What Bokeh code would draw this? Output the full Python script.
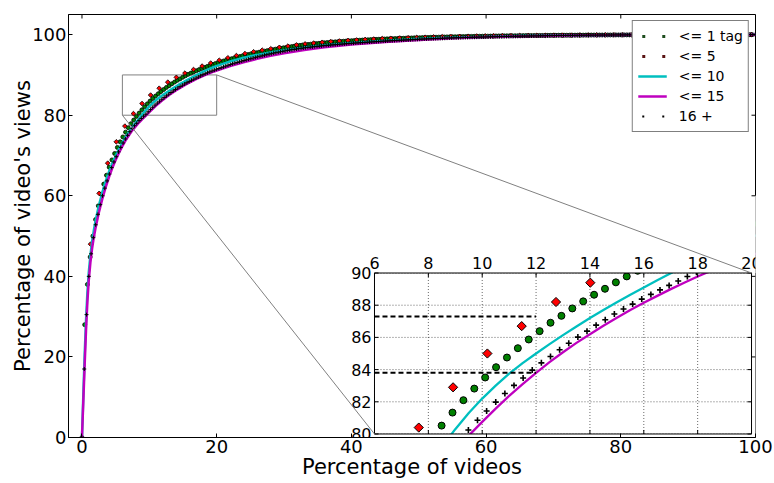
import math
from bokeh.plotting import figure
from bokeh.models import Range1d, FixedTicker, Legend, LegendItem
from bokeh.embed import file_html
from bokeh.resources import INLINE
from bokeh.core.properties import value

FONT = "DejaVu Sans"

# ---------------- data ----------------
LABELS = ["<= 1 tag", "<= 5", "<= 10", "<= 15", "16 +"]
X_TITLE = "Percentage of videos"
Y_TITLE = "Percentage of video's views"

# "<= 5" (red diamonds): one point every RED_STEP percent of videos
RED_STEP = 1.274
RED_Y = [0, 48.0, 60.6, 68.1, 73.4, 77.3, 80.4, 82.9, 85.0, 86.7,
         88.2, 89.4, 90.45, 91.35, 92.2, 92.95, 93.65, 94.25, 94.8, 95.3,
         95.75, 96.15, 96.5, 96.85, 97.15, 97.45, 97.7, 97.9, 98.1, 98.27,
         98.42, 98.56, 98.68, 98.8, 98.9, 99.0, 99.08, 99.16, 99.23, 99.3,
         99.36, 99.42, 99.47, 99.52, 99.56, 99.6, 99.64, 99.67, 99.7, 99.73,
         99.76, 99.78, 99.8, 99.82, 99.84, 99.86, 99.87, 99.88, 99.9, 99.91,
         99.92, 99.93, 99.94, 99.95, 99.95, 99.96, 99.96, 99.97, 99.97, 99.98,
         99.98, 99.98, 99.99, 99.99, 99.99, 99.99, 100, 100, 100]

# "<= 1 tag" (green circles)
GREEN_STEP = 0.4044
GREEN_Y = [0, 28.0, 38.0, 44.8, 50.0, 54.1, 57.5, 60.4, 62.9, 65.1,
           67.1, 68.9, 70.5, 72.0, 73.4, 74.6, 75.8, 76.9, 77.9, 78.8,
           79.7, 80.52, 81.33, 82.10, 82.82, 83.51, 84.15, 84.75, 85.33, 85.87,
           86.39, 86.91, 87.34, 87.80, 88.24, 88.65, 89.02, 89.42, 89.79, 90.14,
           90.45, 90.74, 91.04, 91.32, 91.59, 91.85, 92.1, 92.35, 92.59, 92.82,
           93.05, 93.26, 93.46, 93.66, 93.86, 94.04, 94.23, 94.41, 94.58, 94.75,
           94.91, 95.07, 95.22, 95.37, 95.51, 95.64, 95.78, 95.9, 96.03, 96.14,
           96.27, 96.39, 96.51, 96.62, 96.73, 96.83, 96.94, 97.04, 97.15, 97.25,
           97.34, 97.43, 97.51, 97.58, 97.64, 97.72, 97.78, 97.85, 97.92, 97.98,
           98.04, 98.1, 98.15, 98.21, 98.26, 98.31, 98.36, 98.41, 98.45, 98.5,
           98.54, 98.58, 98.62, 98.66, 98.69, 98.73, 98.77, 98.8, 98.83, 98.86,
           98.89, 98.92, 98.95, 98.98, 99.01, 99.03, 99.06, 99.08, 99.1, 99.13,
           99.16, 99.18, 99.2, 99.22, 99.24, 99.26, 99.29, 99.31, 99.33, 99.35,
           99.36, 99.38, 99.4, 99.42, 99.44, 99.45, 99.47, 99.48, 99.49, 99.51,
           99.52, 99.53, 99.55, 99.57, 99.58, 99.59, 99.6, 99.61, 99.62, 99.63,
           99.64, 99.65, 99.67, 99.68, 99.69, 99.7, 99.71, 99.72, 99.72, 99.73,
           99.74, 99.75, 99.76, 99.77, 99.77, 99.78, 99.78, 99.79, 99.8, 99.8,
           99.81, 99.82, 99.82, 99.83, 99.84, 99.85, 99.85, 99.85, 99.86, 99.86,
           99.86, 99.87, 99.88, 99.88, 99.88, 99.89, 99.89, 99.9, 99.9, 99.9,
           99.91, 99.91, 99.91, 99.92, 99.92, 99.92, 99.93, 99.93, 99.93, 99.94,
           99.94, 99.94, 99.95, 99.95, 99.95, 99.95, 99.96, 99.96, 99.96, 99.96,
           99.97, 99.97, 99.97, 99.97, 99.97, 99.98, 99.98, 99.98, 99.98, 99.98,
           99.98, 99.99, 99.99, 99.99, 99.99, 99.99, 99.99, 99.99, 99.99, 99.99,
           99.99, 100, 100, 100, 100, 100, 100, 100, 100, 100,
           100, 100, 100, 100, 100, 100, 100]

# "16 +" (black plus markers)
PLUS_STEP = 0.3388
PLUS_Y = [0, 17.0, 30.5, 40.0, 45.6, 49.6, 52.8, 55.4, 57.8, 60.0,
          61.9, 63.7, 65.4, 67.0, 68.4, 69.7, 70.9, 72.0, 73.1, 74.1,
          75.0, 75.9, 76.7, 77.4, 78.0, 78.65, 79.2, 79.75, 80.25, 80.85,
          81.43, 81.98, 82.52, 83.02, 83.48, 83.97, 84.42, 84.81, 85.23, 85.64,
          86.02, 86.39, 86.76, 87.10, 87.45, 87.76, 88.07, 88.38, 88.67, 88.95,
          89.23, 89.50, 89.78, 90.05, 90.3, 90.55, 90.78, 91.0, 91.22, 91.43,
          91.6, 91.8, 92.0, 92.2, 92.4, 92.6, 92.78, 92.95, 93.1, 93.27,
          93.44, 93.6, 93.76, 93.91, 94.05, 94.2, 94.35, 94.5, 94.63, 94.76,
          94.9, 95.03, 95.16, 95.28, 95.4, 95.52, 95.63, 95.74, 95.85, 95.96,
          96.08, 96.17, 96.26, 96.34, 96.43, 96.52, 96.6, 96.69, 96.76, 96.83,
          96.9, 96.96, 97.03, 97.09, 97.15, 97.21, 97.28, 97.33, 97.38, 97.43,
          97.47, 97.52, 97.57, 97.62, 97.66, 97.71, 97.76, 97.8, 97.85, 97.89,
          97.93, 97.97, 98.0, 98.04, 98.08, 98.12, 98.16, 98.19, 98.23, 98.27,
          98.3, 98.34, 98.38, 98.41, 98.44, 98.47, 98.5, 98.53, 98.56, 98.59,
          98.62, 98.65, 98.68, 98.71, 98.74, 98.77, 98.8, 98.83, 98.86, 98.89,
          98.92, 98.94, 98.96, 98.98, 99.01, 99.03, 99.05, 99.07, 99.09, 99.11,
          99.14, 99.16, 99.18, 99.2, 99.22, 99.24, 99.25, 99.27, 99.29, 99.3,
          99.32, 99.34, 99.35, 99.37, 99.38, 99.4, 99.41, 99.43, 99.44, 99.46,
          99.47, 99.48, 99.5, 99.51, 99.52, 99.54, 99.55, 99.56, 99.57, 99.58,
          99.59, 99.61, 99.62, 99.63, 99.64, 99.65, 99.66, 99.67, 99.68, 99.69,
          99.7, 99.71, 99.72, 99.73, 99.74, 99.75, 99.76, 99.77, 99.77, 99.78,
          99.79, 99.8, 99.8, 99.81, 99.82, 99.82, 99.83, 99.84, 99.84, 99.85,
          99.86, 99.86, 99.87, 99.87, 99.88, 99.88, 99.89, 99.89, 99.9, 99.9,
          99.9, 99.91, 99.91, 99.92, 99.92, 99.92, 99.93, 99.93, 99.93, 99.94,
          99.94, 99.94, 99.95, 99.95, 99.95, 99.95, 99.96, 99.96, 99.96, 99.96,
          99.96, 99.97, 99.97, 99.97, 99.97, 99.97, 99.97, 99.98, 99.98, 99.98,
          99.98, 99.98, 99.98, 99.98, 99.98, 99.98, 99.98, 99.98, 99.98, 99.99,
          99.99, 99.99, 99.99, 99.99, 99.99, 99.99, 99.99, 99.99, 99.99, 99.99,
          99.99, 99.99, 99.99, 99.99, 99.99, 100, 100, 100, 100, 100,
          100, 100, 100, 100, 100, 100]

# "<= 10" (cyan) and "<= 15" (magenta) curves
LINE_X = [0, 0.2, 0.4, 0.6, 0.8, 1.0, 1.25, 1.5, 1.75, 2.0,
          2.5, 3.0, 3.5, 4.0, 4.5, 5.0, 5.5, 6.0, 6.5, 7.0,
          7.5, 8.0, 8.5, 9.0, 9.5, 10.0, 10.5, 11.0, 11.5, 12.0,
          12.5, 13.0, 13.5, 14.0, 14.5, 15.0, 15.5, 16.0, 16.5, 17.0,
          17.5, 18.0, 18.5, 19.0, 19.5, 20.0, 22, 24, 26, 28,
          30, 33, 36, 40, 45, 50, 55, 60, 65, 70,
          75, 80, 85, 90, 95, 100]
CYAN_Y = [0, 10.5, 20.5, 29.0, 35.8, 40.8, 45.2, 48.6, 51.3, 53.6,
          57.5, 60.7, 63.5, 65.9, 68.0, 69.9, 71.6, 73.2, 74.6, 75.9,
          77.1, 78.2, 79.2, 80.3, 81.3, 82.2, 83.0, 83.75, 84.4, 85.0,
          85.58, 86.14, 86.68, 87.2, 87.7, 88.18, 88.65, 89.1, 89.55, 89.98,
          90.4, 90.8, 91.18, 91.55, 91.9, 92.24, 93.35, 94.25, 94.98, 95.58,
          96.1, 96.78, 97.35, 97.9, 98.5, 98.95, 99.3, 99.5, 99.7, 99.8,
          99.88, 99.93, 99.96, 99.98, 99.99, 100]
MAG_Y = [0, 9.0, 18.0, 26.5, 33.5, 38.8, 43.4, 46.9, 49.6, 51.9,
         55.8, 59.1, 62.0, 64.6, 66.9, 68.9, 70.7, 72.3, 73.8, 75.1,
         76.3, 77.3, 78.25, 79.1, 79.9, 80.75, 81.58, 82.37, 83.1, 83.8,
         84.46, 85.08, 85.66, 86.2, 86.72, 87.22, 87.7, 88.15, 88.58, 89.0,
         89.4, 89.78, 90.14, 90.48, 90.8, 91.1, 92.2, 93.15, 94.0, 94.75,
         95.4, 96.2, 96.85, 97.55, 98.2, 98.7, 99.1, 99.4, 99.6, 99.75,
         99.85, 99.92, 99.96, 99.98, 99.99, 100]

MAIN_TICKS = [0, 20, 40, 60, 80, 100]
INSET_X_TICKS = [6, 8, 10, 12, 14, 16, 18, 20]
INSET_Y_TICKS = [80, 82, 84, 86, 88, 90]
ZOOM_X = (6, 20)
ZOOM_Y = (80, 90)
DASH_LEVELS = [87.3, 83.8]
DASH_X_END = 12

red_x = [i * RED_STEP for i in range(len(RED_Y))]
green_x = [i * GREEN_STEP for i in range(len(GREEN_Y))]
plus_x = [i * PLUS_STEP for i in range(len(PLUS_Y))]

# ---------------- styles ----------------
C_GREEN = "#008000"
C_RED = "#ff0000"
C_CYAN = "#00bfbf"
C_MAG = "#bf00bf"
C_GRAY = "#808080"
NAN = float("nan")

XR = Range1d(-2, 100)
YR = Range1d(0, 105)
p = figure(width=774, height=483, x_range=XR, y_range=YR,
           output_backend="svg", toolbar_location=None,
           min_border_left=68, min_border_right=19, min_border_top=14, min_border_bottom=46,
           x_axis_label=X_TITLE, y_axis_label=Y_TITLE)
p.grid.visible = False
p.outline_line_color = "black"
p.outline_line_width = 1
p.background_fill_color = "white"
p.border_fill_color = "white"

for ax in (p.xaxis[0], p.yaxis[0]):
    ax.ticker = FixedTicker(ticks=MAIN_TICKS)
    ax.major_tick_in = 4
    ax.major_tick_out = 0
    ax.minor_tick_line_color = None
    ax.axis_line_color = "black"
    ax.major_tick_line_color = "black"
    ax.major_label_text_font = FONT
    ax.major_label_text_font_size = "18px"
    ax.major_label_text_color = "black"
    ax.axis_label_text_font = FONT
    ax.axis_label_text_font_size = "21px"
    ax.axis_label_text_font_style = "normal"
    ax.axis_label_text_color = "black"
p.xaxis.major_label_standoff = 2
p.xaxis.axis_label_standoff = -1
p.yaxis.major_label_standoff = 2
p.yaxis.axis_label_standoff = -6

# zoom rectangle on main axes
p.quad(left=[ZOOM_X[0]], right=[ZOOM_X[1]], bottom=[ZOOM_Y[0]], top=[ZOOM_Y[1]],
       fill_color=None, line_color=C_GRAY, line_width=1)

# main series
r_green = p.scatter(green_x, GREEN_Y, marker="circle", size=4, fill_color=C_GREEN,
                    line_color="black", line_width=0.8)
r_red = p.scatter(red_x, RED_Y, marker="square", angle=math.pi / 4, size=3.3, fill_color=C_RED,
                  line_color="black", line_width=0.8)
r_cyan = p.line(LINE_X, CYAN_Y, line_color=C_CYAN, line_width=2.5)
r_mag = p.line(LINE_X, MAG_Y, line_color=C_MAG, line_width=2.5)
r_plus = p.scatter(plus_x, PLUS_Y, marker="cross", size=4, line_color="black", line_width=1)

# ---------------- inset ----------------
BOX = dict(x0=43.43, x1=99.41, y0=0.87, y1=40.83)   # inset placement in main coordinates
ins = p.subplot(x_source=Range1d(*ZOOM_X), y_source=Range1d(*ZOOM_Y),
                x_target=Range1d(BOX["x0"], BOX["x1"]), y_target=Range1d(BOX["y0"], BOX["y1"]))

ins.quad(left=[ZOOM_X[0]], right=[ZOOM_X[1]], bottom=[ZOOM_Y[0]], top=[ZOOM_Y[1]],
         fill_color="white", line_color=None)
ins.segment(x0=INSET_X_TICKS, y0=[ZOOM_Y[0]] * len(INSET_X_TICKS),
            x1=INSET_X_TICKS, y1=[ZOOM_Y[1]] * len(INSET_X_TICKS),
            line_color="black", line_alpha=0.6, line_width=1, line_dash="1 2")
ins.segment(x0=[ZOOM_X[0]] * len(INSET_Y_TICKS), y0=INSET_Y_TICKS,
            x1=[ZOOM_X[1]] * len(INSET_Y_TICKS), y1=INSET_Y_TICKS,
            line_color="black", line_alpha=0.6, line_width=1, line_dash="1 2")

ins.scatter(green_x, GREEN_Y, marker="circle", size=7, fill_color=C_GREEN,
            line_color="black", line_width=1)
ins.scatter(red_x, RED_Y, marker="square", angle=math.pi / 4, size=6.5, fill_color=C_RED,
            line_color="black", line_width=1)
ins.line(LINE_X, CYAN_Y, line_color=C_CYAN, line_width=2.3)
ins.line(LINE_X, MAG_Y, line_color=C_MAG, line_width=2.3)
ins.scatter(plus_x, PLUS_Y, marker="cross", size=6, line_color="black", line_width=1.6)
ins.segment(x0=[ZOOM_X[0]] * len(DASH_LEVELS), y0=DASH_LEVELS,
            x1=[DASH_X_END] * len(DASH_LEVELS), y1=DASH_LEVELS,
            line_color="black", line_width=2, line_dash="5 3")

# clip inset content to its box (white masks around it, in main coordinates)
p.quad(left=[BOX["x0"]], right=[101], bottom=[-2], top=[BOX["y0"]], fill_color="white", line_color=None)
p.quad(left=[BOX["x1"]], right=[101], bottom=[-2], top=[60], fill_color="white", line_color=None)
p.quad(left=[BOX["x0"]], right=[101], bottom=[BOX["y1"]], top=[60], fill_color="white", line_color=None)

# inset frame, ticks and labels
ins.quad(left=[ZOOM_X[0]], right=[ZOOM_X[1]], bottom=[ZOOM_Y[0]], top=[ZOOM_Y[1]],
         fill_color=None, line_color="black", line_width=1)
nx, ny = len(INSET_X_TICKS), len(INSET_Y_TICKS)
ins.ray(x=INSET_X_TICKS, y=[ZOOM_Y[0]] * nx, length=4, length_units="screen", angle=math.pi / 2,
        line_color="black", line_width=1)
ins.ray(x=INSET_X_TICKS, y=[ZOOM_Y[1]] * nx, length=4, length_units="screen", angle=-math.pi / 2,
        line_color="black", line_width=1)
ins.ray(x=[ZOOM_X[0]] * ny, y=INSET_Y_TICKS, length=4, length_units="screen", angle=0,
        line_color="black", line_width=1)
ins.ray(x=[ZOOM_X[1]] * ny, y=INSET_Y_TICKS, length=4, length_units="screen", angle=math.pi,
        line_color="black", line_width=1)
ins.text(x=INSET_X_TICKS, y=[ZOOM_Y[1]] * nx, text=[str(t) for t in INSET_X_TICKS],
         y_offset=-4, text_align="center", text_baseline="bottom",
         text_font=value(FONT), text_font_size="16px", text_color="black")
ins.text(x=[ZOOM_X[0]] * ny, y=INSET_Y_TICKS, text=[str(t) for t in INSET_Y_TICKS],
         x_offset=-3, text_align="right", text_baseline="middle",
         text_font=value(FONT), text_font_size="16px", text_color="black")

# connector lines (zoom rectangle corners -> inset corners)
p.segment(x0=[ZOOM_X[0], ZOOM_X[1]], y0=[ZOOM_Y[0], ZOOM_Y[1]],
          x1=[BOX["x0"], BOX["x1"]], y1=[BOX["y0"], BOX["y1"]],
          line_color=C_GRAY, line_width=1)

# ticks on the top and right edges of the main frame (pointing inward)
nm = len(MAIN_TICKS)
p.ray(x=MAIN_TICKS, y=[YR.end] * nm, length=4, length_units="screen", angle=-math.pi / 2,
      line_color="black", line_width=1)
p.ray(x=[XR.end] * nm, y=MAIN_TICKS, length=4, length_units="screen", angle=math.pi,
      line_color="black", line_width=1)

# ---------------- legend ----------------
DOTS = "0 4 3 13"   # two short dashes per legend glyph, like two markers
d_green = p.line([NAN], [NAN], line_color="#1e4d1e", line_width=3, line_dash=DOTS)
d_red = p.line([NAN], [NAN], line_color="#5a1414", line_width=3, line_dash=DOTS)
d_plus = p.line([NAN], [NAN], line_color="black", line_width=2, line_dash="0 4 2 14")
legend = Legend(items=[LegendItem(label=LABELS[0], renderers=[d_green]),
                       LegendItem(label=LABELS[1], renderers=[d_red]),
                       LegendItem(label=LABELS[2], renderers=[r_cyan]),
                       LegendItem(label=LABELS[3], renderers=[r_mag]),
                       LegendItem(label=LABELS[4], renderers=[d_plus])],
                location="top_right")
legend.label_text_font = FONT
legend.label_text_font_size = "14px"
legend.label_text_color = "black"
legend.glyph_width = 29
legend.glyph_height = 20
legend.label_standoff = 12
legend.spacing = 0
legend.padding = 5
legend.margin = 6
legend.border_line_color = "black"
legend.border_line_width = 1
legend.background_fill_color = "white"
legend.background_fill_alpha = 1
p.add_layout(legend)

open("out.html", "w").write(file_html(p, INLINE))
